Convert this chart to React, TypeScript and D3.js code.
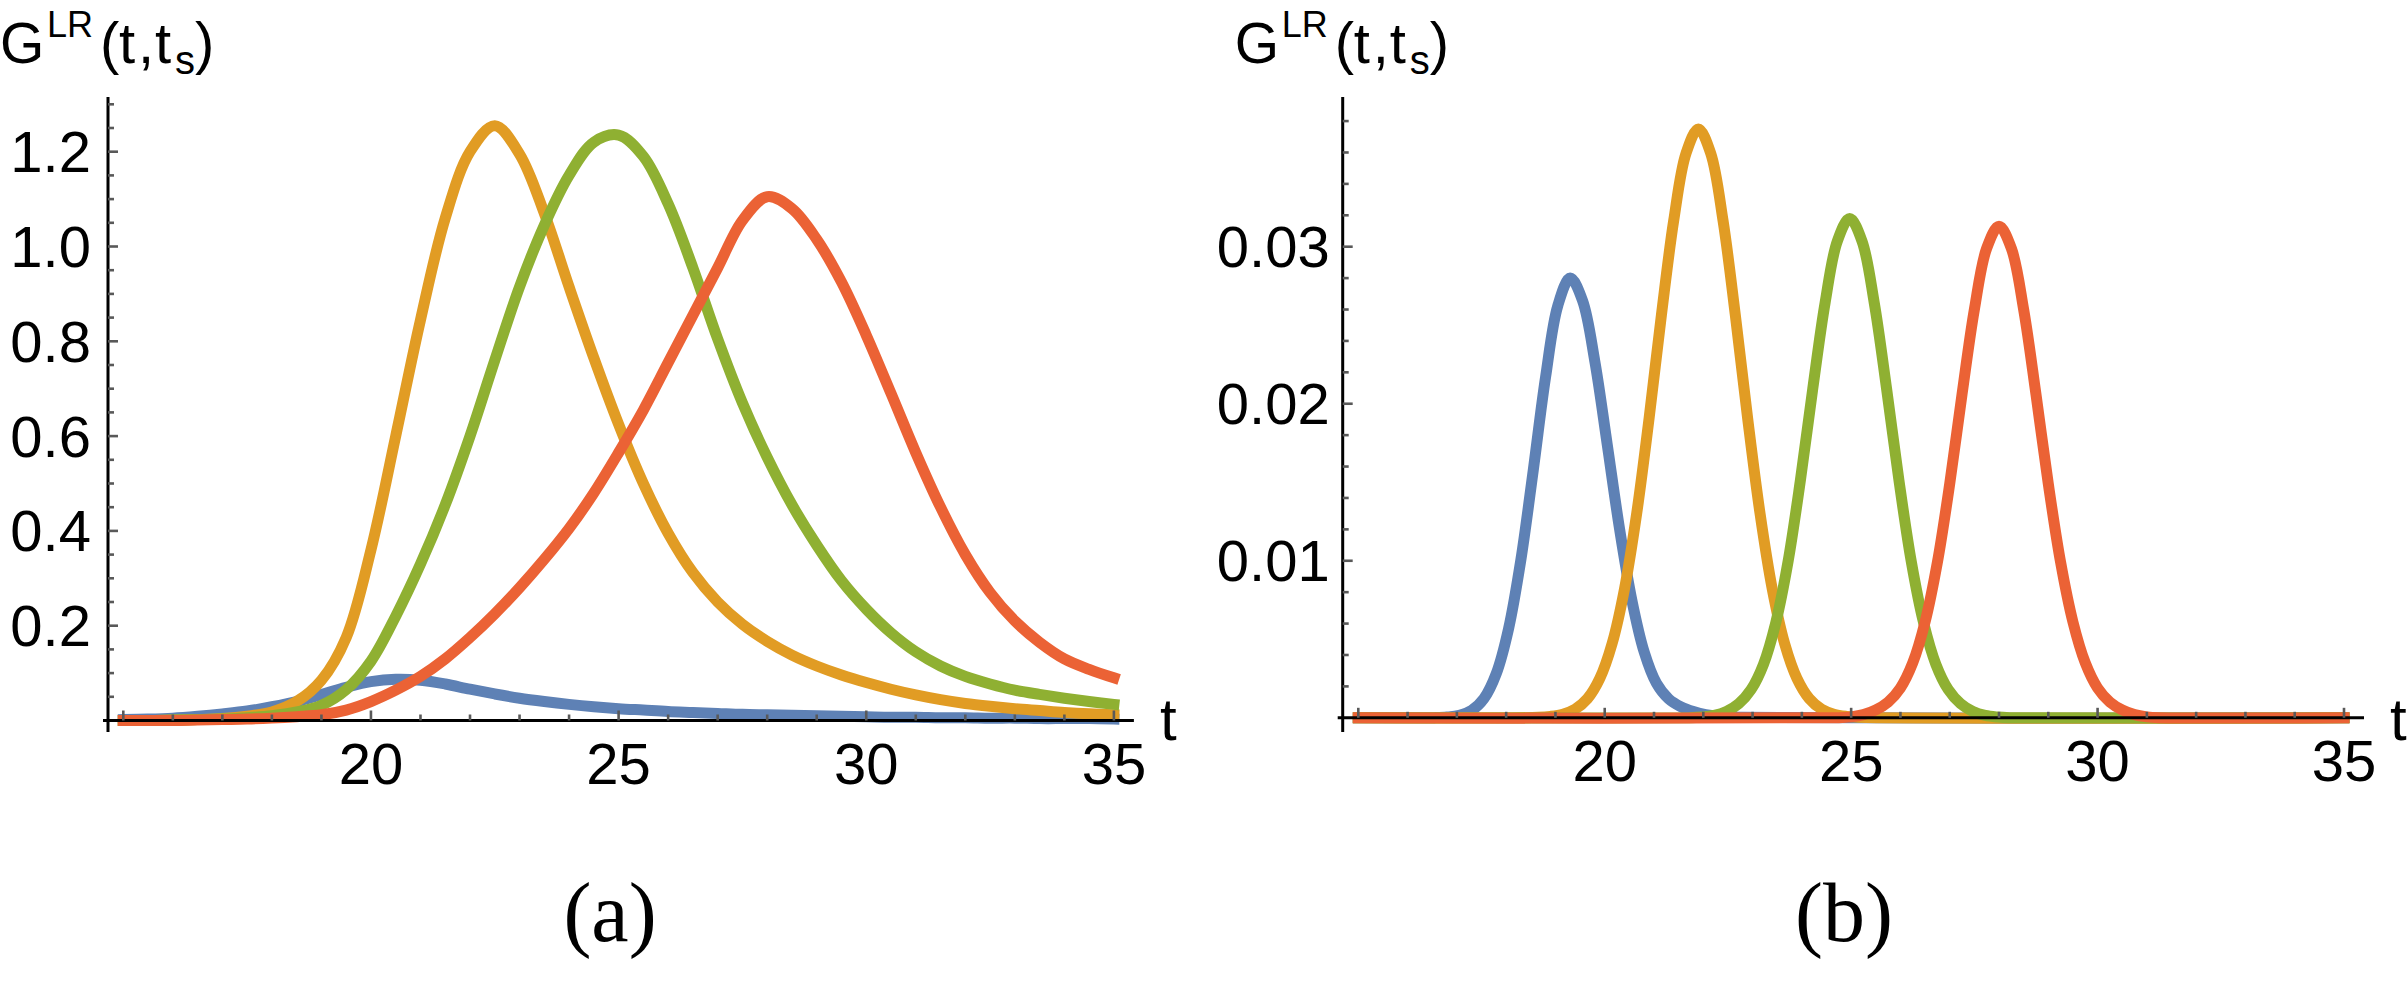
import React from 'react';
import * as d3 from 'd3';

const W = 2408;
const H = 981;
const COLORS = ['#5E81B5', '#E19C24', '#8FB032', '#EB6235'];

// ---------- Panel (a) data ----------
const tA = [15, 15.5, 16, 16.5, 17, 17.5, 18, 18.5, 19, 19.5, 20, 20.5, 21, 21.5, 22, 22.5, 23, 23.5, 24, 24.5, 25,
  25.5, 26, 26.5, 27, 27.5, 28, 28.5, 29, 29.5, 30, 30.5, 31, 31.5, 32, 32.5, 33, 33.5, 34, 34.5, 35];
const blueA = [0.002, 0.003, 0.005, 0.009, 0.014, 0.02, 0.029, 0.04, 0.055, 0.07, 0.082, 0.087, 0.085, 0.077, 0.066, 0.056,
  0.047, 0.04, 0.034, 0.029, 0.025, 0.022, 0.019, 0.017, 0.015, 0.013, 0.012, 0.011, 0.01, 0.009, 0.008, 0.007, 0.007,
  0.006, 0.006, 0.005, 0.005, 0.004, 0.004, 0.004, 0.003];
const orangeA = [0, 0, 0.001, 0.002, 0.004, 0.009, 0.018, 0.04, 0.085, 0.175, 0.36, 0.6, 0.845, 1.06, 1.2, 1.255, 1.195,
  1.07, 0.915, 0.765, 0.625, 0.5, 0.395, 0.312, 0.25, 0.203, 0.167, 0.138, 0.115, 0.096, 0.08, 0.066, 0.054, 0.044, 0.036,
  0.03, 0.025, 0.021, 0.017, 0.014, 0.012];
const greenA = [0, 0, 0.001, 0.002, 0.003, 0.006, 0.01, 0.018, 0.032, 0.065, 0.125, 0.22, 0.33, 0.455, 0.6, 0.76, 0.915,
  1.045, 1.15, 1.22, 1.235, 1.19, 1.09, 0.955, 0.805, 0.67, 0.555, 0.455, 0.37, 0.295, 0.235, 0.185, 0.145, 0.115,
  0.093, 0.077, 0.064, 0.055, 0.047, 0.04, 0.034];
const redA = [0, 0, 0, 0.001, 0.002, 0.003, 0.005, 0.008, 0.012, 0.022, 0.04, 0.064, 0.093, 0.13, 0.175, 0.225, 0.28, 0.34,
  0.405, 0.48, 0.565, 0.655, 0.755, 0.855, 0.955, 1.055, 1.105, 1.08, 1.015, 0.925, 0.813, 0.69, 0.565, 0.45, 0.35, 0.27,
  0.21, 0.165, 0.13, 0.108, 0.09];

// ---------- Panel (b) data: [t, G] ----------
const blueB: [number, number][] = [[15, 0], [16.3, 0], [16.55, 0.00001], [16.8, 0.00005], [17.05, 0.00016], [17.3, 0.00047],
  [17.55, 0.00123], [17.8, 0.00282], [18.05, 0.00569], [18.3, 0.01009], [18.55, 0.01577], [18.8, 0.0217], [19.05, 0.02627],
  [19.3, 0.028], [19.55, 0.02656], [19.8, 0.02268], [20.05, 0.01742], [20.3, 0.01205], [20.55, 0.0075], [20.8, 0.0042],
  [21.05, 0.0022], [21.3, 0.0012], [21.55, 0.0007], [21.8, 0.0004], [22.05, 0.0002], [22.3, 0.0001], [22.8, 0.00003], [35, 0]];
const orangeB: [number, number][] = [[15, 0], [18.65, 0.00003], [18.9, 0.00009], [19.15, 0.00023], [19.4, 0.00055],
  [19.65, 0.00122], [19.9, 0.00251], [20.15, 0.00473], [20.4, 0.00819], [20.65, 0.01304], [20.9, 0.01907], [21.15, 0.02564],
  [21.4, 0.03167], [21.65, 0.03595], [21.9, 0.0375], [22.15, 0.03595], [22.4, 0.03167], [22.65, 0.02564], [22.9, 0.01907],
  [23.15, 0.01304], [23.4, 0.00819], [23.65, 0.00473], [23.9, 0.00251], [24.15, 0.00122], [24.4, 0.00055], [24.65, 0.00023],
  [24.9, 0.00009], [25.15, 0.00003], [35, 0]];
const greenB: [number, number][] = [[15, 0], [21.72, 0.00001], [21.97, 0.00005], [22.22, 0.00015], [22.47, 0.0004],
  [22.72, 0.0009], [22.97, 0.0018], [23.22, 0.0034], [23.47, 0.00605], [23.72, 0.00995], [23.97, 0.01512], [24.22, 0.02093],
  [24.47, 0.0264], [24.72, 0.03036], [24.97, 0.0318], [25.22, 0.03036], [25.47, 0.0264], [25.72, 0.02093], [25.97, 0.01512],
  [26.22, 0.00995], [26.47, 0.00605], [26.72, 0.0034], [26.97, 0.0018], [27.22, 0.0009], [27.47, 0.0004], [27.72, 0.00015],
  [27.97, 0.00005], [28.22, 0.00001], [35, 0]];
const redB: [number, number][] = [[15, 0], [24.75, 0.00001], [25, 0.00006], [25.25, 0.0002], [25.5, 0.0005], [25.75, 0.001],
  [26, 0.0019], [26.25, 0.0035], [26.5, 0.0061], [26.75, 0.0099], [27, 0.0149], [27.25, 0.0206], [27.5, 0.026],
  [27.75, 0.0299], [28, 0.0313], [28.25, 0.0299], [28.5, 0.026], [28.75, 0.0206], [29, 0.0149], [29.25, 0.0099],
  [29.5, 0.0061], [29.75, 0.0035], [30, 0.0019], [30.25, 0.001], [30.5, 0.0005], [30.75, 0.0002], [31, 0.00006],
  [31.25, 0.00001], [35, 0]];

// ---------- Tick labels ----------
const xTickValues = [20, 25, 30, 35];
const xTickLabels = ['20', '25', '30', '35'];
const yTickValuesA = [0.2, 0.4, 0.6, 0.8, 1.0, 1.2];
const yTickLabelsA = ['0.2', '0.4', '0.6', '0.8', '1.0', '1.2'];
const yTickValuesB = [0.01, 0.02, 0.03];
const yTickLabelsB = ['0.01', '0.02', '0.03'];

const SANS = '"Liberation Sans", Arial, Helvetica, sans-serif';
const SERIF = '"Liberation Serif", "Times New Roman", serif';

type PanelProps = {
  series: [number, number][][];
  x: d3.ScaleLinear<number, number>;
  y: d3.ScaleLinear<number, number>;
  axisX: number;
  yMinorStep: number;
  yMinorCount: number;
  yMajorEvery: number;
  yTickValues: number[];
  yTickLabels: string[];
  labelGap: number;
  caption: string;
  captionX: number;
};

const TICK_COLOR = '#595959';

function Title({ x0 }: { x0: number }) {
  const base = 63;
  return (
    <g fontFamily={SANS} fill="#000">
      <text x={x0 + 0} y={base} fontSize={57}>G</text>
      <text x={x0 + 47} y={37} fontSize={36}>LR</text>
      <text x={x0 + 100} y={base} fontSize={58}>(</text>
      <text x={x0 + 119} y={base} fontSize={58}>t</text>
      <text x={x0 + 138} y={base} fontSize={58}>,</text>
      <text x={x0 + 155} y={base} fontSize={58}>t</text>
      <text x={x0 + 175} y={74} fontSize={40}>s</text>
      <text x={x0 + 195} y={base} fontSize={58}>)</text>
    </g>
  );
}

function Panel(p: PanelProps) {
  const { x, y, axisX } = p;
  const axisY = y(0);
  const line = d3.line<[number, number]>()
    .x(d => x(d[0]))
    .y(d => y(d[1]))
    .curve(d3.curveCatmullRom.alpha(0.5));
  const xEnd = x(35) + 20;
  const xMinor = d3.range(15, 36);
  const yMinor = d3.range(1, p.yMinorCount + 1);
  return (
    <g>
      {p.series.map((s, i) => (
        <path key={i} d={line(s) || ''} fill="none" stroke={COLORS[i]} strokeWidth={11}
          strokeLinecap="square" strokeLinejoin="round" />
      ))}
      <line x1={axisX} x2={axisX} y1={97} y2={732} stroke="#000" strokeWidth={3} />
      <line x1={axisX - 5} x2={xEnd} y1={axisY} y2={axisY} stroke="#000" strokeWidth={3} />
      {xMinor.map(t => {
        const major = t % 5 === 0;
        return <line key={'xt' + t} x1={x(t)} x2={x(t)} y1={axisY} y2={axisY - (major ? 10 : 6)}
          stroke={TICK_COLOR} strokeWidth={2.6} />;
      })}
      {yMinor.map(i => {
        const v = i * p.yMinorStep;
        const major = i % p.yMajorEvery === 0;
        return <line key={'yt' + i} x1={axisX} x2={axisX + (major ? 10 : 6)} y1={y(v)} y2={y(v)}
          stroke={TICK_COLOR} strokeWidth={2.6} />;
      })}
      <g fontFamily={SANS} fontSize={58} fill="#000">
        {xTickValues.map((t, i) => (
          <text key={'xl' + t} x={x(t)} y={axisY + 63} textAnchor="middle">{xTickLabels[i]}</text>
        ))}
        {p.yTickValues.map((v, i) => (
          <text key={'yl' + i} x={axisX - p.labelGap} y={y(v) + 20.5} textAnchor="end">{p.yTickLabels[i]}</text>
        ))}
      </g>
      <text x={xEnd + 26} y={740} fontFamily={SANS} fontSize={60} fill="#000">t</text>
      <Title x0={axisX - 108} />
      <text x={p.captionX} y={941} fontFamily={SERIF} fontSize={84} textAnchor="middle" fill="#000">{p.caption}</text>
    </g>
  );
}

export default function App() {
  const xA = d3.scaleLinear().domain([15, 35]).range([123.3, 1113.9]);
  const yA = d3.scaleLinear().domain([0, 1.2]).range([720.5, 151.7]);
  const xB = d3.scaleLinear().domain([15, 35]).range([1358.3, 2344]);
  const yB = d3.scaleLinear().domain([0, 0.03]).range([717.8, 246.7]);

  const seriesA: [number, number][][] = [blueA, orangeA, greenA, redA].map(vals =>
    tA.map((t, i) => [t, vals[i]] as [number, number]));
  const seriesB = [blueB, orangeB, greenB, redB];

  return (
    <>
      <style>{'body{margin:0;background:#fff}'}</style>
      <svg width={W} height={H} viewBox={`0 0 ${W} ${H}`} style={{ display: 'block', background: '#fff' }}>
        <Panel series={seriesA} x={xA} y={yA} axisX={108} yMinorStep={0.05} yMinorCount={26} yMajorEvery={4}
          yTickValues={yTickValuesA} yTickLabels={yTickLabelsA} labelGap={17} caption="(a)" captionX={610} />
        <Panel series={seriesB} x={xB} y={yB} axisX={1342.7} yMinorStep={0.002} yMinorCount={19} yMajorEvery={5}
          yTickValues={yTickValuesB} yTickLabels={yTickLabelsB} labelGap={13} caption="(b)" captionX={1844} />
      </svg>
    </>
  );
}
